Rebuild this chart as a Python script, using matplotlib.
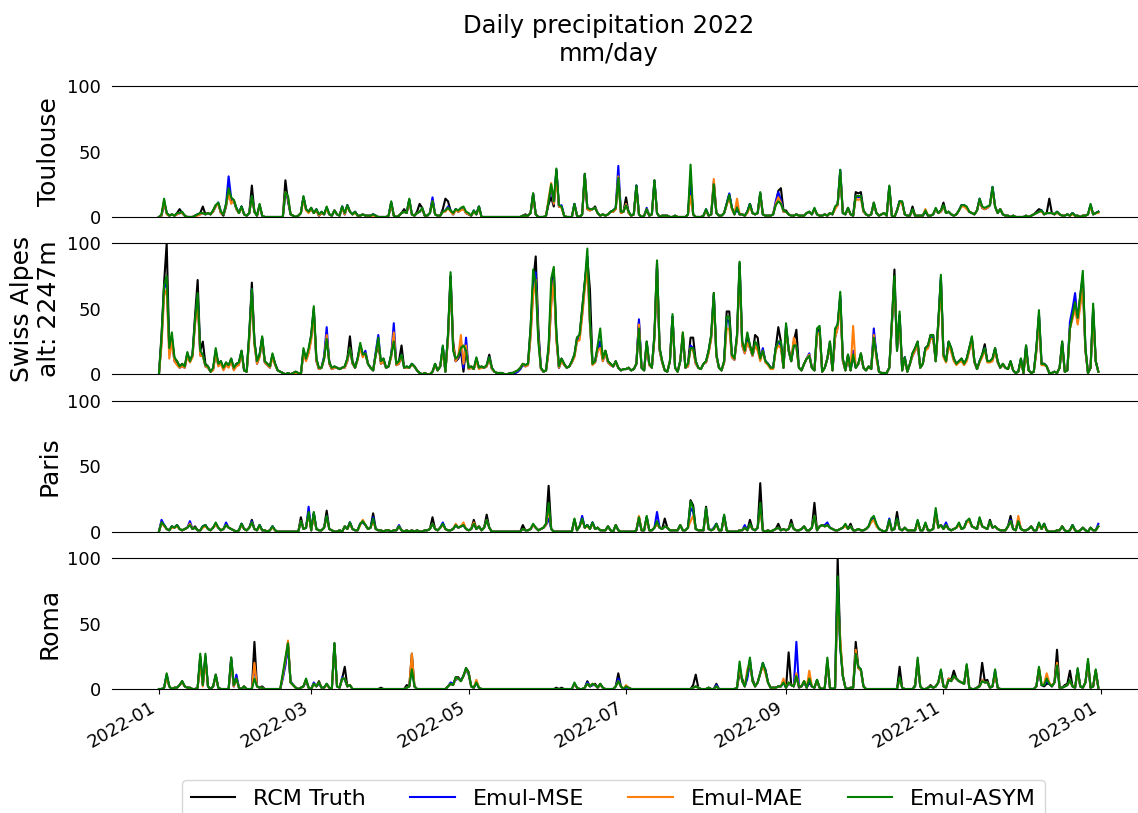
import matplotlib
matplotlib.use('Agg')
import matplotlib.pyplot as plt
import matplotlib.dates as mdates
import pandas as pd

days = pd.date_range('2022-01-01', '2022-12-31', freq='D')

# daily precipitation (mm/day), one list per month
toulouse_truth = (
    [0,1,12,3,1,2,1,3,6,3, 1,0,0,0,1,2,3,8,2,3, 2,5,9,10,3,1,8,20,12,13, 6]
    + [3,8,2,1,3,24,4,1,9,1, 0,0,0,0,0,0,0,0,28,12, 2,1,0,1,3,15,6,4]
    + [7,3,5,1,3,2,7,2,1,5, 2,1,8,2,9,4,2,4,1,1, 2,1,1,1,2,1,0,0,0,0, 1]
    + [11,1,0,1,3,6,3,13,2,1, 4,10,7,1,1,3,13,2,1,1, 6,14,12,5,2,6,4,6,7,3]
    + [2,1,4,2,8,0,0,0,0,0, 0,0,0,0,0,0,0,0,0,0, 0,1,2,1,3,18,2,0,0,0, 1]
    + [10,15,8,36,8,8,1,0,0,0, 10,1,0,2,33,6,5,6,8,3, 1,2,1,2,4,4,6,30,3,4]
    + [15,3,1,2,24,2,0,1,5,1, 2,28,3,0,1,1,1,0,0,1, 0,0,0,0,2,30,2,0,0,0, 1]
    + [5,1,2,25,3,1,1,3,10,17, 7,2,8,2,2,1,4,10,3,2, 3,18,2,1,1,1,2,10,20,22, 5]
    + [5,2,1,1,2,1,1,1,3,4, 2,6,2,1,1,2,1,3,2,7, 10,34,3,2,7,2,1,19,18,19]
    + [5,2,1,2,11,3,1,2,3,1, 23,1,0,5,12,11,2,1,1,8, 1,1,1,1,4,1,1,2,6,3, 5]
    + [11,3,4,2,1,2,5,9,9,7, 4,3,2,5,13,7,6,7,9,22, 8,3,6,2,1,1,0,1,0,0]
    + [0,0,1,0,1,2,4,6,5,2, 3,14,3,2,4,2,1,1,2,1, 3,1,1,0,1,1,2,9,2,3, 4]
)
toulouse_mse = (
    [0,1,11,3,1,2,1,2,3,3, 1,0,0,0,1,2,2,3,2,3, 2,4,8,11,4,2,10,31,14,12, 7]
    + [3,8,2,1,3,16,4,1,9,1, 0,0,0,0,0,0,0,0,18,14, 2,1,0,1,3,15,6,4]
    + [6,3,6,1,4,2,7,2,1,5, 2,1,8,2,9,4,2,4,1,1, 2,1,1,1,2,1,0,0,0,0, 1]
    + [11,1,0,1,3,4,3,13,2,1, 3,4,6,1,1,3,15,2,1,1, 4,5,8,5,2,6,4,6,7,3]
    + [2,1,5,2,8,0,0,0,0,0, 0,0,0,0,0,0,0,0,0,0, 0,1,1,1,3,17,2,0,0,0, 1]
    + [12,22,10,35,8,9,1,0,0,0, 10,1,0,2,32,7,6,6,7,3, 1,2,1,2,4,5,7,39,4,4]
    + [10,4,1,2,24,2,0,1,7,1, 2,27,3,0,1,1,1,0,0,1, 0,0,0,0,2,25,2,0,0,0, 1]
    + [6,1,2,27,3,1,1,3,10,18, 7,2,6,2,2,1,4,10,3,2, 3,18,2,1,1,1,2,12,19,13, 4]
    + [4,2,1,1,2,1,1,1,3,4, 2,6,2,1,1,2,1,3,2,7, 9,36,3,2,6,2,1,16,15,16]
    + [4,2,1,2,10,3,1,2,3,1, 23,1,0,5,12,11,2,1,1,5, 1,1,1,1,5,1,1,2,6,3, 4]
    + [8,3,4,2,1,2,5,9,9,7, 4,3,2,5,14,7,6,7,9,23, 8,3,6,2,1,1,0,1,0,0]
    + [0,0,1,0,1,2,3,4,5,2, 3,3,3,2,4,2,1,1,2,1, 3,1,1,0,1,1,2,9,2,3, 4]
)
toulouse_mae = (
    [0,1,12,2,1,2,1,2,3,3, 1,0,0,0,1,1,2,3,2,3, 2,4,8,10,3,2,9,18,10,13, 6]
    + [3,7,2,1,3,15,4,1,9,1, 0,0,0,0,0,0,0,0,19,15, 2,1,0,1,3,14,5,3]
    + [6,3,5,1,3,2,6,2,1,5, 2,1,7,2,8,4,2,3,1,1, 2,1,1,1,1,1,0,0,0,0, 1]
    + [10,1,0,1,3,4,3,12,2,1, 3,4,6,1,1,3,12,2,1,1, 4,4,7,4,2,5,4,5,6,3]
    + [2,1,4,2,7,0,0,0,0,0, 0,0,0,0,0,0,0,0,0,0, 0,1,1,1,3,16,2,0,0,0, 1]
    + [14,26,10,30,8,7,1,0,0,0, 9,1,0,2,31,6,5,6,7,3, 1,2,1,2,4,4,6,31,3,4]
    + [10,3,1,2,22,2,0,1,6,1, 2,26,3,0,1,1,1,0,0,1, 0,0,0,0,2,16,2,0,0,0, 1]
    + [5,1,2,29,3,1,1,3,9,15, 6,2,14,2,2,1,3,8,3,2, 3,17,2,1,1,1,2,10,15,11, 4]
    + [4,2,1,1,2,1,1,1,3,4, 2,6,2,1,1,2,1,3,2,6, 9,33,3,2,6,2,1,14,13,14]
    + [4,2,1,2,10,3,1,2,3,1, 22,1,0,5,11,10,2,1,1,5, 1,1,1,1,6,1,1,2,6,3, 4]
    + [8,3,4,2,1,2,5,8,8,6, 4,3,2,5,13,7,6,7,9,21, 8,3,6,2,1,1,0,1,0,0]
    + [0,0,1,0,1,2,3,4,4,2, 3,3,3,2,3,2,1,1,2,1, 2,1,1,0,1,1,2,8,2,3, 3]
)
toulouse_asym = (
    [0,2,14,3,1,2,1,3,3,4, 1,0,0,0,1,2,3,3,2,3, 2,5,9,11,4,2,10,22,15,13, 7]
    + [3,8,2,1,3,16,4,1,10,1, 0,0,0,0,0,0,0,0,19,16, 2,1,0,1,3,16,6,4]
    + [7,3,6,2,4,2,8,2,1,5, 2,1,8,3,9,4,2,4,1,1, 2,1,1,1,2,1,0,0,0,0, 1]
    + [12,1,0,1,3,4,3,14,2,1, 3,4,7,1,1,3,12,2,1,1, 4,5,7,5,3,6,5,7,8,4]
    + [3,1,5,2,8,0,0,0,0,0, 0,0,0,0,0,0,0,0,0,0, 0,1,1,1,3,18,2,0,0,0, 1]
    + [12,25,12,37,9,8,1,0,0,0, 10,1,0,2,33,7,6,6,7,3, 1,2,1,2,4,5,7,30,4,4]
    + [9,4,1,2,24,2,0,1,6,1, 2,28,3,0,1,1,1,0,0,1, 0,0,0,0,2,40,2,0,0,0, 1]
    + [6,1,2,25,3,1,1,3,10,17, 7,2,7,2,2,1,4,10,3,2, 3,19,2,1,1,1,2,9,12,10, 5]
    + [4,2,1,1,2,1,1,1,3,4, 2,7,2,1,1,2,1,3,2,8, 10,36,3,2,7,2,1,16,16,16]
    + [5,2,1,2,11,3,1,2,3,1, 24,1,0,5,12,12,2,1,1,6, 1,1,1,1,5,1,1,2,7,3, 5]
    + [9,3,4,2,1,2,5,9,9,8, 4,3,2,5,14,8,7,8,9,23, 8,3,6,2,1,1,0,1,0,0]
    + [0,0,1,0,1,2,3,4,5,2, 3,3,3,2,4,2,1,1,2,1, 3,1,1,0,1,1,2,10,2,3, 4]
)

alpes_truth = (
    [0,30,70,100,20,28,12,10,6,8, 6,16,10,15,45,72,18,25,8,6, 2,4,18,8,10,4,9,6,12,4, 8]
    + [9,18,3,2,30,70,25,10,15,28, 10,8,6,15,8,3,2,1,0,1, 0,1,2,1,0,18,12,18]
    + [30,50,12,4,5,12,30,10,4,6, 5,4,5,6,12,29,10,5,12,22, 15,16,8,5,3,15,22,10,12,5, 6]
    + [15,30,8,10,22,5,6,5,8,6, 3,1,0,1,0,0,2,8,3,6, 20,2,30,75,25,10,12,18,2,20]
    + [5,6,4,12,5,6,5,7,15,5, 2,1,1,1,0,0,1,1,1,2, 4,8,7,8,35,70,90,35,5,2, 3]
    + [20,60,80,30,5,12,8,5,6,10, 15,28,30,50,70,88,65,8,10,20, 25,12,18,10,8,6,10,5,3,4]
    + [4,5,3,4,8,40,5,3,25,8, 5,30,85,20,10,3,2,10,44,5, 2,10,30,5,8,28,28,10,5,4, 8]
    + [10,18,30,62,15,5,3,10,48,48, 15,12,30,85,25,18,30,22,15,30, 28,12,18,10,8,5,5,20,36,25, 5]
    + [35,20,10,25,34,5,3,8,12,14, 5,3,30,35,2,5,12,25,3,30, 38,58,12,3,15,3,15,5,8,16]
    + [5,3,6,4,30,15,2,1,1,1, 5,40,80,18,45,3,13,2,8,16, 20,25,5,8,20,22,30,30,10,40, 72]
    + [15,10,25,20,12,8,10,12,8,12, 20,28,10,4,10,15,23,10,10,12, 20,10,5,8,5,4,10,3,1,2]
    + [12,1,22,3,1,2,20,45,8,8, 6,1,1,2,1,5,25,2,3,35, 45,55,42,60,75,20,1,5,50,10, 2]
)
alpes_mse = (
    [0,25,65,72,18,26,10,8,5,6, 5,15,10,14,40,60,15,15,6,5, 2,4,17,7,9,4,8,6,11,4, 7]
    + [8,17,3,2,28,65,24,8,14,27, 9,7,5,14,8,3,2,1,0,1, 0,1,1,1,0,17,11,17]
    + [28,48,10,4,5,14,36,8,4,5, 5,4,5,5,10,20,8,5,12,22, 14,18,8,5,3,17,30,8,10,5, 6]
    + [14,39,7,8,15,5,5,5,8,6, 3,1,0,1,0,0,2,7,3,6, 21,2,28,74,20,10,13,22,5,28]
    + [4,5,4,11,5,5,5,6,13,4, 2,1,1,1,0,0,1,1,1,2, 4,7,6,7,30,65,78,30,4,2, 3]
    + [18,55,75,28,5,11,7,5,6,9, 14,26,28,46,68,90,40,8,9,18, 25,10,16,9,7,6,9,5,3,4]
    + [4,5,3,4,8,42,5,3,22,7, 5,28,82,18,9,3,2,10,44,5, 2,10,30,5,6,22,20,8,5,4, 8]
    + [9,17,28,60,14,5,3,9,42,40, 13,11,28,82,22,16,25,20,14,22, 20,12,20,10,8,5,5,20,25,22, 5]
    + [37,18,10,22,22,5,3,8,12,16, 5,3,32,33,2,5,12,22,3,28, 36,60,10,3,12,3,18,5,8,14]
    + [5,3,6,4,35,15,2,1,1,1, 5,38,70,20,45,3,13,2,8,14, 18,22,5,8,20,20,28,28,10,38, 74]
    + [14,10,24,18,11,8,10,11,8,11, 19,26,9,4,10,14,20,10,10,11, 19,9,5,7,5,4,9,3,1,2]
    + [11,1,20,3,1,2,18,45,8,8, 6,1,1,2,1,5,23,2,3,40, 50,62,40,55,70,18,1,5,48,10, 2]
)
alpes_mae = (
    [0,22,60,65,12,25,10,7,5,6, 5,14,9,13,38,55,14,14,6,5, 2,3,16,6,8,3,7,5,10,3, 6]
    + [7,16,3,2,26,62,22,8,13,26, 9,7,5,13,7,3,2,1,0,1, 0,1,1,1,0,16,10,16]
    + [26,46,10,4,5,12,30,8,4,5, 5,4,5,5,10,20,8,5,11,20, 13,16,8,5,3,15,26,8,10,5, 6]
    + [13,32,7,8,14,5,5,5,7,6, 3,1,0,1,0,0,2,7,3,6, 19,2,26,72,22,10,14,30,8,22]
    + [4,5,4,10,4,5,5,6,12,4, 2,1,1,1,0,0,1,1,2,3, 5,8,6,7,28,60,72,28,4,2, 3]
    + [17,52,72,26,5,10,7,5,6,9, 13,25,26,44,65,80,38,7,9,18, 20,10,16,9,7,6,9,5,3,4]
    + [4,5,3,4,8,38,5,3,22,7, 5,27,80,18,9,3,2,10,42,5, 2,10,32,5,6,20,18,8,5,4, 8]
    + [9,16,27,58,14,5,3,9,35,35, 13,11,27,80,22,16,24,20,14,22, 18,10,18,9,7,4,4,18,22,20, 5]
    + [35,18,10,28,20,5,3,8,12,15, 5,3,30,32,2,5,12,22,3,28, 35,55,10,3,12,3,37,5,8,14]
    + [5,3,6,4,30,12,2,1,1,1, 5,38,70,20,42,3,12,2,8,14, 18,22,5,8,18,20,27,27,10,36, 70]
    + [13,9,22,17,10,7,9,10,7,10, 18,25,9,4,9,13,19,9,9,10, 18,9,5,7,5,4,9,3,1,2]
    + [10,1,18,3,1,2,17,42,7,7, 6,1,1,2,1,5,22,2,3,35, 42,50,38,52,65,18,1,5,45,10, 2]
)
alpes_asym = (
    [0,28,68,75,20,32,13,10,6,8, 6,17,10,15,42,62,18,15,7,6, 2,5,20,8,10,5,9,7,12,5, 8]
    + [9,18,3,2,32,65,25,10,15,29, 10,8,6,16,8,3,2,1,0,1, 0,1,2,1,0,20,12,20]
    + [30,52,12,5,5,12,27,9,5,6, 5,4,5,6,12,20,9,5,12,24, 15,16,8,5,3,15,28,10,12,5, 6]
    + [15,25,8,10,15,5,6,5,8,6, 3,1,0,1,0,0,2,8,3,6, 22,2,30,78,18,12,14,20,22,18]
    + [5,6,4,13,5,6,5,7,13,5, 2,1,1,1,0,0,1,1,2,3, 5,8,7,8,35,80,70,25,5,2, 3]
    + [22,73,82,32,6,12,8,5,6,10, 15,28,30,50,70,96,40,8,10,22, 35,12,18,10,8,6,10,5,3,4]
    + [4,5,3,4,8,35,5,3,25,8, 5,30,87,20,10,3,2,10,46,5, 2,10,32,5,8,20,20,10,5,4, 8]
    + [10,18,30,62,15,5,3,10,44,44, 15,12,30,86,25,18,32,22,15,25, 22,12,18,10,8,5,5,20,25,25, 5]
    + [39,18,10,22,22,5,3,8,12,14, 5,3,35,37,2,5,12,25,3,35, 38,63,12,3,15,3,15,5,8,16]
    + [5,3,6,4,28,15,2,1,1,1, 5,40,75,18,48,3,13,2,8,16, 20,25,5,8,20,22,30,30,10,40, 76]
    + [15,10,25,20,12,8,10,12,8,12, 20,29,10,4,10,15,20,10,10,12, 20,10,5,8,5,4,10,3,1,2]
    + [12,1,22,3,1,2,20,49,8,8, 6,1,1,2,1,5,25,2,3,35, 45,55,43,60,79,20,1,5,54,10, 2]
)

paris_truth = (
    [0,7,5,2,1,4,3,5,2,1, 2,3,6,2,4,1,1,4,5,2, 1,3,6,3,1,2,5,3,2,1, 0]
    + [1,6,2,1,3,9,2,1,5,1, 1,0,1,4,1,0,0,0,0,0, 0,0,0,0,11,2,3,15]
    + [1,14,2,1,1,3,16,2,1,0, 0,1,0,4,2,7,2,1,1,6, 8,5,2,3,14,2,1,1,0,1, 1]
    + [0,1,1,4,1,0,1,0,1,0, 1,0,0,1,1,2,11,2,1,3, 6,2,1,1,2,5,3,4,5,2]
    + [1,2,9,2,4,1,3,13,3,0, 0,0,0,0,0,0,0,0,0,0, 0,5,1,1,2,5,3,1,2,3, 6]
    + [35,2,0,0,0,0,0,0,0,0, 9,1,4,10,3,5,2,7,2,3, 1,1,1,4,1,0,5,1,0,0]
    + [0,0,0,0,1,11,1,1,11,1, 1,3,6,3,2,10,3,1,1,1, 1,5,1,1,3,24,20,2,1,1, 1]
    + [19,2,1,2,6,1,1,12,1,0, 0,0,0,1,1,3,1,9,2,1, 3,37,1,0,1,0,1,2,6,1, 2]
    + [1,2,9,2,1,1,2,4,1,1, 3,22,1,4,5,4,5,3,2,1, 1,2,3,5,2,6,1,1,2,1]
    + [1,2,4,8,10,5,2,1,0,1, 8,1,2,15,2,1,3,1,1,1, 1,8,1,1,6,1,1,2,15,3, 5]
    + [2,5,2,1,2,3,6,2,3,8, 9,4,3,2,10,4,3,2,9,3, 4,2,1,1,1,4,12,2,1,8]
    + [2,1,1,2,4,1,1,6,2,6, 1,0,0,0,1,1,4,1,0,1, 5,1,0,1,3,1,0,3,1,1, 4]
)
paris_mse = (
    [0,9,5,2,1,4,3,5,2,1, 2,3,8,2,3,1,1,4,5,2, 1,3,6,3,1,2,7,3,2,1, 0]
    + [1,6,2,1,3,8,2,1,5,1, 1,0,1,4,1,0,0,0,0,0, 0,0,0,0,8,2,3,19]
    + [1,14,2,1,1,3,12,2,1,0, 0,1,0,4,2,7,2,1,1,6, 7,5,2,3,11,2,1,1,0,1, 1]
    + [0,1,1,5,1,0,1,0,1,0, 1,0,0,1,1,2,6,2,1,3, 7,2,1,1,2,5,3,4,5,2]
    + [1,2,6,2,4,1,3,9,3,0, 0,0,0,0,0,0,0,0,0,0, 0,2,1,1,2,5,3,1,2,3, 5]
    + [10,2,0,0,0,0,0,0,0,0, 9,1,4,12,3,5,2,7,2,3, 1,1,1,4,1,0,5,1,0,0]
    + [0,0,0,0,1,10,1,1,11,1, 1,3,15,3,2,4,3,1,1,1, 1,5,1,1,3,18,15,2,1,1, 1]
    + [17,2,1,3,6,1,1,12,1,0, 0,0,0,1,1,5,1,5,2,1, 3,20,1,0,1,0,1,2,3,1, 2]
    + [1,2,6,2,1,1,2,4,1,1, 3,12,1,4,5,5,7,3,2,1, 1,2,3,5,2,4,1,1,2,1]
    + [1,2,4,9,11,5,2,1,0,1, 10,1,2,10,2,1,3,1,1,1, 1,8,1,1,6,1,1,2,15,4, 5]
    + [3,7,2,1,2,3,6,2,3,8, 9,4,3,2,10,4,3,2,7,3, 4,2,1,1,1,4,9,2,1,10]
    + [2,1,1,2,4,1,1,6,2,6, 1,0,0,0,1,1,4,1,0,1, 5,1,0,1,3,1,0,3,1,1, 6]
)
paris_mae = (
    [0,7,4,2,1,3,3,4,2,1, 2,3,6,2,3,1,1,3,4,2, 1,3,5,3,1,2,5,3,2,1, 0]
    + [1,5,2,1,3,7,2,1,4,1, 1,0,1,3,1,0,0,0,0,0, 0,0,0,0,8,2,3,14]
    + [1,12,2,1,1,3,11,2,1,0, 0,1,0,4,2,6,2,1,1,5, 9,5,2,3,8,2,1,1,0,1, 1]
    + [0,1,1,4,1,0,1,0,1,0, 1,0,0,1,1,2,6,2,1,3, 5,2,1,1,2,6,3,4,7,2]
    + [1,2,7,2,4,1,3,9,3,0, 0,0,0,0,0,0,0,0,0,0, 0,2,1,1,2,5,3,1,2,3, 5]
    + [18,2,0,0,0,0,0,0,0,0, 9,1,4,9,3,4,2,6,2,3, 1,1,1,4,1,0,5,1,0,0]
    + [0,0,0,0,1,12,1,1,10,1, 1,3,6,3,2,4,3,1,1,1, 1,5,1,1,3,8,12,2,1,1, 1]
    + [16,2,1,2,5,1,1,11,1,0, 0,0,0,1,1,3,1,5,2,1, 3,18,1,0,1,0,1,2,3,1, 2]
    + [1,2,6,2,1,1,2,4,1,1, 3,12,1,4,5,4,5,3,2,1, 1,2,3,4,2,4,1,1,2,1]
    + [1,2,4,7,9,4,2,1,0,1, 8,1,2,9,2,1,3,1,1,1, 1,7,1,1,6,1,1,2,14,3, 5]
    + [2,5,2,1,2,3,5,2,3,7, 8,4,3,2,9,4,3,2,7,3, 4,2,1,1,1,4,8,2,1,12]
    + [2,1,1,2,4,1,1,5,2,5, 1,0,0,0,1,1,4,1,0,1, 4,1,0,1,3,1,0,3,1,1, 4]
)
paris_asym = (
    [0,7,5,2,1,4,3,5,2,1, 2,3,5,2,3,1,1,4,5,2, 1,3,7,3,1,2,5,3,2,1, 0]
    + [1,6,2,1,3,7,2,1,5,1, 1,0,1,4,1,0,0,0,0,0, 0,0,0,0,8,2,3,15]
    + [1,15,2,1,1,3,12,2,1,0, 0,1,0,4,2,7,2,1,1,6, 8,5,2,3,10,2,1,1,0,1, 1]
    + [0,1,1,4,1,0,1,0,1,0, 1,0,0,1,1,2,6,2,1,3, 6,2,1,1,2,5,3,4,5,2]
    + [1,2,6,2,4,1,3,9,3,0, 0,0,0,0,0,0,0,0,0,0, 0,2,1,1,2,6,3,1,2,3, 6]
    + [22,2,0,0,0,0,0,0,0,0, 10,1,4,10,3,5,2,7,2,3, 1,1,1,4,1,0,5,1,0,0]
    + [0,0,0,0,1,11,1,1,12,1, 1,3,8,3,2,4,3,1,1,1, 1,5,1,1,3,23,18,2,1,1, 1]
    + [18,2,1,2,6,1,1,13,1,0, 0,0,0,1,1,3,1,6,2,1, 3,22,1,0,1,0,1,2,3,1, 2]
    + [1,2,6,2,1,1,2,4,1,1, 3,12,1,4,5,4,5,3,2,1, 1,2,3,6,2,4,1,1,2,1]
    + [1,2,4,10,12,6,2,1,0,1, 9,1,2,10,2,1,3,1,1,1, 1,9,1,1,7,1,1,2,18,3, 5]
    + [2,5,2,1,2,3,7,2,3,8, 10,4,3,2,11,4,3,2,8,3, 4,2,1,1,1,4,8,2,1,8]
    + [2,1,1,2,4,1,1,7,2,6, 1,0,0,0,1,1,4,1,0,1, 5,1,0,1,3,1,0,3,1,1, 4]
)

roma_truth = (
    [0,0,1,10,2,0,1,1,3,6, 2,1,1,0,0,1,25,3,25,2, 0,2,11,1,0,0,0,0,24,2, 9]
    + [1,0,2,0,0,0,36,2,1,2, 0,0,0,0,0,0,0,10,20,35, 5,3,1,0,1,2,7,1]
    + [0,4,2,6,1,1,4,1,0,35, 2,1,8,17,2,3,0,0,0,0, 0,0,0,0,0,0,0,1,0,0, 0]
    + [0,0,0,0,0,0,3,2,27,2, 0,0,0,0,0,0,0,0,0,0, 0,0,2,4,3,9,9,6,10,16]
    + [13,2,1,5,1,0,0,0,0,0, 0,0,0,0,0,0,0,0,0,0, 0,0,0,0,0,0,0,0,0,0, 0]
    + [0,0,0,1,0,1,0,0,0,0, 4,1,0,0,1,6,2,3,4,1, 4,1,0,0,0,0,2,12,2,0]
    + [2,1,0,0,0,0,0,0,0,0, 0,0,0,0,0,0,0,0,0,0, 0,0,0,0,0,0,3,11,1,0, 0]
    + [0,1,0,0,4,0,0,0,0,0, 0,0,1,12,8,2,10,20,8,2, 5,12,18,15,5,1,1,1,2,2, 6]
    + [1,28,3,2,10,1,2,6,1,5, 2,1,7,1,0,1,20,1,0,1, 100,35,10,1,0,1,1,36,17,15]
    + [2,0,0,0,0,0,0,0,0,0, 0,0,0,0,17,1,0,0,0,0, 3,20,2,0,0,1,3,1,2,5, 13]
    + [2,1,8,7,14,8,6,5,4,17, 1,0,0,1,3,20,6,7,1,2, 12,1,0,0,0,0,0,0,0,0]
    + [0,0,0,0,0,0,2,15,3,2, 4,4,2,5,30,1,1,3,4,14, 2,1,14,2,1,5,20,1,2,14, 1]
)
roma_mse = (
    [0,0,1,11,2,0,1,1,3,5, 2,1,1,0,0,1,22,3,24,2, 0,2,10,1,0,0,0,0,22,2, 11]
    + [1,0,2,0,0,0,18,2,1,1, 0,0,0,0,0,0,0,8,18,33, 6,3,1,0,1,2,6,1]
    + [0,5,2,4,1,1,3,1,0,33, 2,1,9,7,2,3,0,0,0,0, 0,0,0,0,0,0,0,0,0,0, 0]
    + [0,0,0,0,0,0,1,2,18,2, 0,0,0,0,0,0,0,0,0,0, 0,0,2,5,4,7,8,7,10,15]
    + [11,2,1,5,1,0,0,0,0,0, 0,0,0,0,0,0,0,0,0,0, 0,0,0,0,0,0,0,0,0,0, 0]
    + [0,0,0,0,0,0,0,0,0,0, 4,1,0,0,1,5,2,3,3,1, 3,1,0,0,0,0,2,8,2,0]
    + [1,1,0,0,0,0,0,0,0,0, 0,0,0,0,0,0,0,0,0,0, 0,0,0,0,0,0,1,2,1,0, 0]
    + [0,1,0,0,3,0,0,0,0,0, 0,0,1,18,6,2,8,22,6,2, 5,12,20,14,5,1,1,1,2,2, 5]
    + [1,4,3,2,36,2,2,5,1,6, 2,1,6,1,0,1,22,1,0,1, 80,32,10,1,0,1,1,28,16,14]
    + [2,0,0,0,0,0,0,0,0,0, 0,0,0,0,8,1,0,0,0,0, 2,22,2,0,0,1,2,1,2,5, 14]
    + [2,1,7,6,9,8,6,5,4,18, 1,0,0,1,2,7,5,5,1,2, 14,1,0,0,0,0,0,0,0,0]
    + [0,0,0,0,0,0,2,15,3,3, 6,4,2,5,18,1,1,2,3,6, 2,1,15,2,1,5,20,1,2,14, 1]
)
roma_mae = (
    [0,0,1,9,2,0,1,1,3,5, 2,1,1,0,0,1,20,2,22,2, 0,2,10,1,0,0,0,0,20,2, 8]
    + [1,0,2,0,0,0,20,2,1,1, 0,0,0,0,0,0,0,10,22,37, 5,3,1,0,1,2,7,1]
    + [0,4,2,5,1,1,3,1,0,33, 2,1,8,8,2,3,0,0,0,0, 0,0,0,0,0,0,0,0,0,0, 0]
    + [0,0,0,0,0,0,1,2,27,2, 0,0,0,0,0,0,0,0,0,0, 0,0,2,4,3,8,8,6,10,15]
    + [12,2,1,7,1,0,0,0,0,0, 0,0,0,0,0,0,0,0,0,0, 0,0,0,0,0,0,0,0,0,0, 0]
    + [0,0,0,0,0,0,0,0,0,0, 4,1,0,0,1,4,2,4,3,1, 3,1,0,0,0,0,2,6,2,0]
    + [3,1,0,0,0,0,0,0,0,0, 0,0,0,0,0,0,0,0,0,0, 0,0,0,0,0,0,1,2,1,0, 0]
    + [0,1,0,0,2,0,0,0,0,0, 0,0,1,16,6,2,15,20,6,2, 5,12,18,12,5,1,1,1,2,2, 8]
    + [1,5,3,2,12,2,2,6,1,14, 2,1,6,1,0,1,22,1,0,1, 70,38,10,1,0,1,1,30,16,14]
    + [2,0,0,0,0,0,0,0,0,0, 0,0,0,0,8,1,0,0,0,0, 2,22,2,0,0,1,2,1,2,5, 13]
    + [2,1,8,6,9,8,6,5,4,18, 1,0,0,1,2,7,5,5,1,2, 12,1,0,0,0,0,0,0,0,0]
    + [0,0,0,0,0,0,2,16,3,4, 12,5,2,5,20,1,1,2,3,6, 2,1,14,2,1,5,20,1,2,14, 1]
)
roma_asym = (
    [0,0,1,12,2,0,1,1,3,6, 2,1,1,0,0,1,27,3,27,2, 0,2,11,1,0,0,0,0,24,3, 8]
    + [1,0,2,0,0,0,8,2,1,1, 0,0,0,0,0,0,0,12,24,35, 5,3,1,0,1,2,8,1]
    + [0,4,2,5,1,1,4,1,0,35, 2,1,8,8,2,3,0,0,0,0, 0,0,0,0,0,0,0,0,0,0, 0]
    + [0,0,0,0,0,0,1,2,15,2, 0,0,0,0,0,0,0,0,0,0, 0,0,2,4,3,9,8,6,10,16]
    + [12,2,1,5,1,0,0,0,0,0, 0,0,0,0,0,0,0,0,0,0, 0,0,0,0,0,0,0,0,0,0, 0]
    + [0,0,0,0,0,0,0,0,0,0, 5,1,0,0,1,4,2,4,3,1, 4,1,0,0,0,0,2,6,2,0]
    + [2,1,0,0,0,0,0,0,0,0, 0,0,0,0,0,0,0,0,0,0, 0,0,0,0,0,0,1,2,1,0, 0]
    + [0,1,0,0,2,0,0,0,0,0, 0,0,1,21,6,2,12,24,6,2, 5,12,20,14,5,1,1,1,2,2, 5]
    + [1,5,3,2,10,2,2,6,1,8, 2,1,7,1,0,1,24,1,0,1, 86,32,10,1,0,1,1,27,17,15]
    + [2,0,0,0,0,0,0,0,0,0, 0,0,0,0,9,1,0,0,0,0, 2,24,2,0,0,1,2,1,2,5, 15]
    + [2,1,7,6,10,8,6,5,4,19, 1,0,0,1,2,6,5,5,1,2, 15,1,0,0,0,0,0,0,0,0]
    + [0,0,0,0,0,0,2,17,3,3, 8,4,2,5,18,1,1,2,3,7, 2,1,16,2,1,5,23,1,2,15, 1]
)

site_labels = ['Toulouse', 'Swiss Alpes\nalt: 2247m', 'Paris', 'Roma']
model_labels = ['RCM Truth', 'Emul-MSE', 'Emul-MAE', 'Emul-ASYM']
model_colors = ['black', 'blue', '#ff7f0e', 'green']

panels = [
    [toulouse_truth, toulouse_mse, toulouse_mae, toulouse_asym],
    [alpes_truth, alpes_mse, alpes_mae, alpes_asym],
    [paris_truth, paris_mse, paris_mae, paris_asym],
    [roma_truth, roma_mse, roma_mae, roma_asym],
]

fig = plt.figure(figsize=(11.38, 8.13), dpi=100)

# axes placed by hand (pixel layout of the reference)
bottoms = [0.7331, 0.5396, 0.3461, 0.1525]
axes = []
for i, (site, series) in enumerate(zip(site_labels, panels)):
    ax = fig.add_axes([0.0984, bottoms[i], 0.908, 0.1611],
                      sharex=axes[0] if axes else None)
    for vals, lab, col in zip(series, model_labels, model_colors):
        ax.plot(days, vals, color=col, lw=1.5, label=lab)
    ax.set_ylim(0, 100)
    ax.set_yticks([0, 50, 100])
    ax.set_ylabel(site, fontsize=18)
    ax.spines['left'].set_visible(False)
    ax.spines['right'].set_visible(False)
    ax.tick_params(axis='y', labelsize=13, length=0, pad=8)
    if i < 3:
        ax.tick_params(axis='x', bottom=False, labelbottom=False)
    axes.append(ax)

axes[-1].xaxis.set_major_locator(mdates.MonthLocator(bymonth=[1, 3, 5, 7, 9, 11]))
axes[-1].xaxis.set_major_formatter(mdates.DateFormatter('%Y-%m'))
axes[-1].tick_params(axis='x', labelsize=13)
for lab in axes[-1].get_xticklabels():
    lab.set_rotation(30)
    lab.set_ha('right')

fig.suptitle('Daily precipitation 2022\nmm/day', fontsize=17.5, x=0.535, y=0.983, va='top')

handles, labels = axes[0].get_legend_handles_labels()
fig.legend(handles, labels, loc='upper center', ncol=4, fontsize=16,
           bbox_to_anchor=(0.539, 0.041), borderaxespad=0, frameon=True)

fig.savefig('out.png', dpi=100)
